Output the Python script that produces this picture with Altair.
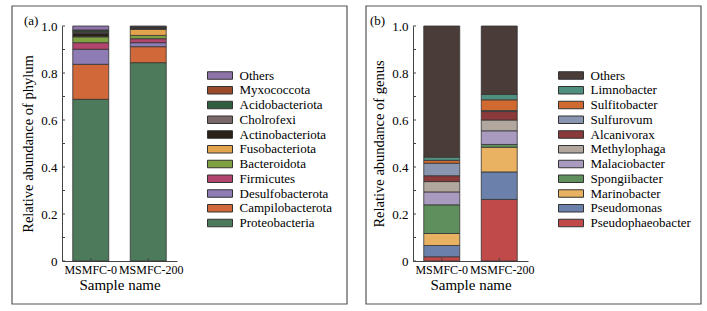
import altair as alt
import pandas as pd

samples = ["MSMFC-0", "MSMFC-200"]

phyla = ["Proteobacteria", "Campilobacterota", "Desulfobacterota", "Firmicutes",
         "Bacteroidota", "Fusobacteriota", "Actinobacteriota", "Cholrofexi",
         "Acidobacteriota", "Myxococcota", "Others"]
phylum_msmfc0 = [0.688, 0.149, 0.064, 0.028, 0.025, 0.002, 0.012, 0.006, 0.006, 0.003, 0.017]
phylum_msmfc200 = [0.844, 0.068, 0.017, 0.017, 0.014, 0.026, 0.004, 0.003, 0.002, 0.002, 0.003]
phylum_colors = ["#4e7a5c", "#d0683a", "#8e7db5", "#b2456e", "#7fa142", "#e4a44e",
                 "#2a2119", "#786868", "#2f5d3e", "#9a4b2c", "#8c74a8"]

genera = ["Pseudophaeobacter", "Pseudomonas", "Marinobacter", "Spongiibacter",
          "Malaciobacter", "Methylophaga", "Alcanivorax", "Sulfurovum",
          "Sulfitobacter", "Limnobacter", "Others"]
genus_msmfc0 = [0.018, 0.048, 0.051, 0.122, 0.055, 0.044, 0.025, 0.053, 0.012, 0.014, 0.558]
genus_msmfc200 = [0.262, 0.117, 0.105, 0.012, 0.058, 0.046, 0.036, 0.004, 0.046, 0.023, 0.291]
genus_colors = ["#c04a4a", "#6b80aa", "#e8b262", "#5f8f5c", "#a99abf", "#b2a79e",
                "#8a3a3a", "#8a96b0", "#d06a30", "#4f8f80", "#4a3c38"]

tick_values = [0.0, 0.1, 0.2, 0.3, 0.4, 0.5, 0.6, 0.7, 0.8, 0.9, 1.0]
label_values = [0.0, 0.2, 0.4, 0.6, 0.8, 1.0]

FONT = "Liberation Serif"
AXC = "#444"


def make_panel(taxa, v0, v1, colors, ytitle, tag, frame_l, frame_r, tag_x):
    rows = []
    for i, t in enumerate(taxa):
        rows.append({"sample": samples[0], "taxon": t, "value": v0[i], "idx": i})
        rows.append({"sample": samples[1], "taxon": t, "value": v1[i], "idx": i})
    df = pd.DataFrame(rows)
    xscale = alt.Scale(domain=samples, paddingInner=0.374, paddingOuter=0.187)
    yscale = alt.Scale(domain=[0, 1], nice=False)
    xaxis = alt.Axis(title="Sample name", labelAngle=0, ticks=False, grid=False,
                     labelOffset=alt.ExprRef("datum.value == 'MSMFC-200' ? 3 : 0"),
                     domainColor=AXC, labelFont=FONT, labelFontSize=12,
                     labelColor="black", labelPadding=3,
                     titleFont=FONT, titleFontSize=15, titleFontWeight="normal",
                     titleColor="black", titlePadding=2)
    yaxis = alt.Axis(title=ytitle, values=label_values, ticks=False, grid=False,
                     labelExpr="datum.value == 0 ? '0' : format(datum.value, '.1f')",
                     domainColor=AXC, labelFont=FONT, labelFontSize=13,
                     labelColor="black", labelPadding=5,
                     titleFont=FONT, titleFontSize=14.5, titleFontWeight="normal",
                     titleColor="black", titlePadding=5)
    bars = alt.Chart(df).mark_bar(stroke="#333", strokeWidth=0.8).encode(
        x=alt.X("sample:N", scale=xscale, sort=samples, axis=xaxis),
        y=alt.Y("value:Q", stack="zero", scale=yscale, axis=yaxis),
        color=alt.Color("taxon:N",
                        scale=alt.Scale(domain=taxa[::-1], range=colors[::-1]),
                        legend=alt.Legend(title=None, orient="none", legendX=151.5, legendY=43,
                                          padding=0, symbolType="M-2.5,-0.75H2.5V0.75H-2.5Z",
                                          symbolSize=100, symbolStrokeColor="#333",
                                          symbolStrokeWidth=1, symbolOpacity=1,
                                          labelFont=FONT, labelFontSize=13, labelColor="black",
                                          labelOffset=13, rowPadding=0.75)),
        order=alt.Order("idx:Q", sort="ascending"),
    )
    ydf = pd.DataFrame({"t": tick_values})
    yticks = alt.Chart(ydf).mark_rule(color=AXC, strokeWidth=1).encode(
        y=alt.Y("t:Q", scale=yscale, axis=yaxis),
        x=alt.value(0), x2=alt.value(3),
    )
    xdf = pd.DataFrame({"sample": samples})
    xticks = alt.Chart(xdf).mark_rule(color=AXC, strokeWidth=1).encode(
        x=alt.X("sample:N", scale=xscale, sort=samples, axis=xaxis),
        y=alt.value(235), y2=alt.value(232),
    )
    one = pd.DataFrame({"a": [0]})
    frame = alt.Chart(one).mark_rect(filled=False, stroke="#555", strokeWidth=1.2).encode(
        x=alt.value(frame_l), x2=alt.value(frame_r), y=alt.value(-20), y2=alt.value(278),
    )
    label = alt.Chart(one).mark_text(text=tag, align="left", baseline="middle",
                                     font=FONT, fontSize=13, color="black").encode(
        x=alt.value(tag_x), y=alt.value(-5),
    )
    return alt.layer(bars, yticks, xticks, frame, label).properties(width=115, height=235)


left = make_panel(phyla, phylum_msmfc0, phylum_msmfc200, phylum_colors,
                  "Relative abundance of phylum", "(a)", -50, 285, -38)
right = make_panel(genera, genus_msmfc0, genus_msmfc200, genus_colors,
                   "Relative abundance of genus", "(b)", -47, 288, -43)

chart = alt.hconcat(left, right, spacing=17).resolve_scale(
    color="independent", x="independent", y="independent"
).properties(padding={"left": 11, "top": 5, "right": 0, "bottom": 0}, background="white"
).configure_view(strokeWidth=0)

chart.save("out.html", embed_options={"renderer": "svg", "actions": False})
